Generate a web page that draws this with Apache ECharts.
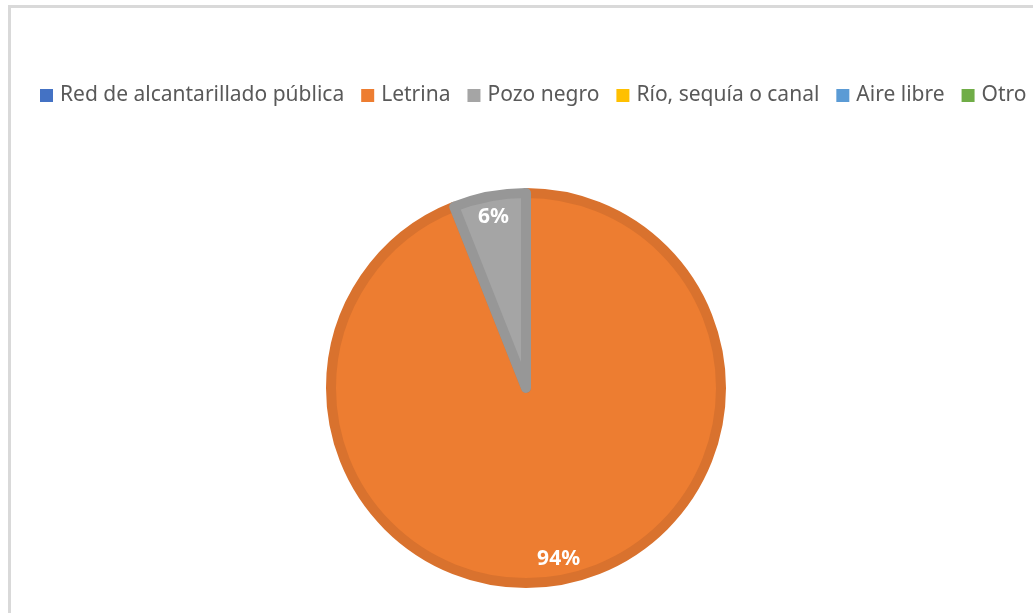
<!DOCTYPE html>
<html>
<head>
<meta charset="utf-8">
<script src="https://cdn.jsdelivr.net/npm/echarts@6/dist/echarts.min.js"></script>
<style>
  html, body { margin: 0; padding: 0; background: #fff; }
  #main { width: 1033px; height: 613px; }
</style>
</head>
<body>
<div id="main"></div>
<script>
    // datos del gráfico
    var categorias = ['Red de alcantarillado pública', 'Letrina', 'Pozo negro', 'Río, sequía o canal', 'Aire libre', 'Otro'];
    var valores = [0, 94, 6, 0, 0, 0];
    var colores = ['#4472c4', '#ed7d31', '#a5a5a5', '#ffc000', '#5b9bd5', '#70ad47'];
    var bordes = ['#3b64ad', '#d9722e', '#979797', '#e0a800', '#4f88bc', '#62983e'];

    var chartDom = document.getElementById('main');
    var myChart = echarts.init(chartDom);

    var datos = categorias.map(function (c, i) {
        return {
            name: c,
            value: valores[i],
            itemStyle: {
                color: colores[i],
                borderColor: bordes[i],
                borderWidth: valores[i] > 0 ? 10 : 0
            }
        };
    });

    // capa solo para etiquetas (anillo exterior, transparente)
    var etiquetas = valores.map(function (v) {
        return { value: v };
    });

    var option = {
        animation: false,
        backgroundColor: '#fff',
        graphic: [
            {
                type: 'rect',
                shape: { x: 9.5, y: 6.5, width: 1100, height: 700 },
                style: { fill: 'none', stroke: '#d9d9d9', lineWidth: 3 },
                silent: true
            }
        ],
        legend: {
            data: categorias,
            left: 35,
            top: 80,
            width: 1200,
            itemWidth: 13,
            itemHeight: 13,
            itemGap: 17,
            icon: 'rect',
            itemStyle: { borderWidth: 0 },
            textStyle: {
                fontFamily: 'Noto Sans',
                fontSize: 21,
                color: '#595959',
                padding: [0, 0, 0, 2]
            }
        },
        series: [
            {
                name: 'Servicio higiénico',
                type: 'pie',
                center: [526, 388],
                radius: 195,
                startAngle: 90,
                clockwise: true,
                label: { show: false },
                labelLine: { show: false },
                emphasis: { disabled: true },
                data: datos
            },
            {
                type: 'pie',
                center: [526, 388],
                radius: [142, 200],
                startAngle: 90,
                clockwise: true,
                silent: true,
                itemStyle: { color: 'rgba(0,0,0,0)', borderWidth: 0 },
                labelLine: { show: false },
                label: {
                    show: true,
                    position: 'inside',
                    fontFamily: 'Noto Sans',
                    fontWeight: 'bold',
                    fontSize: 21,
                    color: '#fff',
                    formatter: function (p) {
                        return p.value > 0 ? Math.round(p.percent) + '%' : '';
                    }
                },
                data: etiquetas
            }
        ]
    };

    myChart.setOption(option);
</script>
</body>
</html>
